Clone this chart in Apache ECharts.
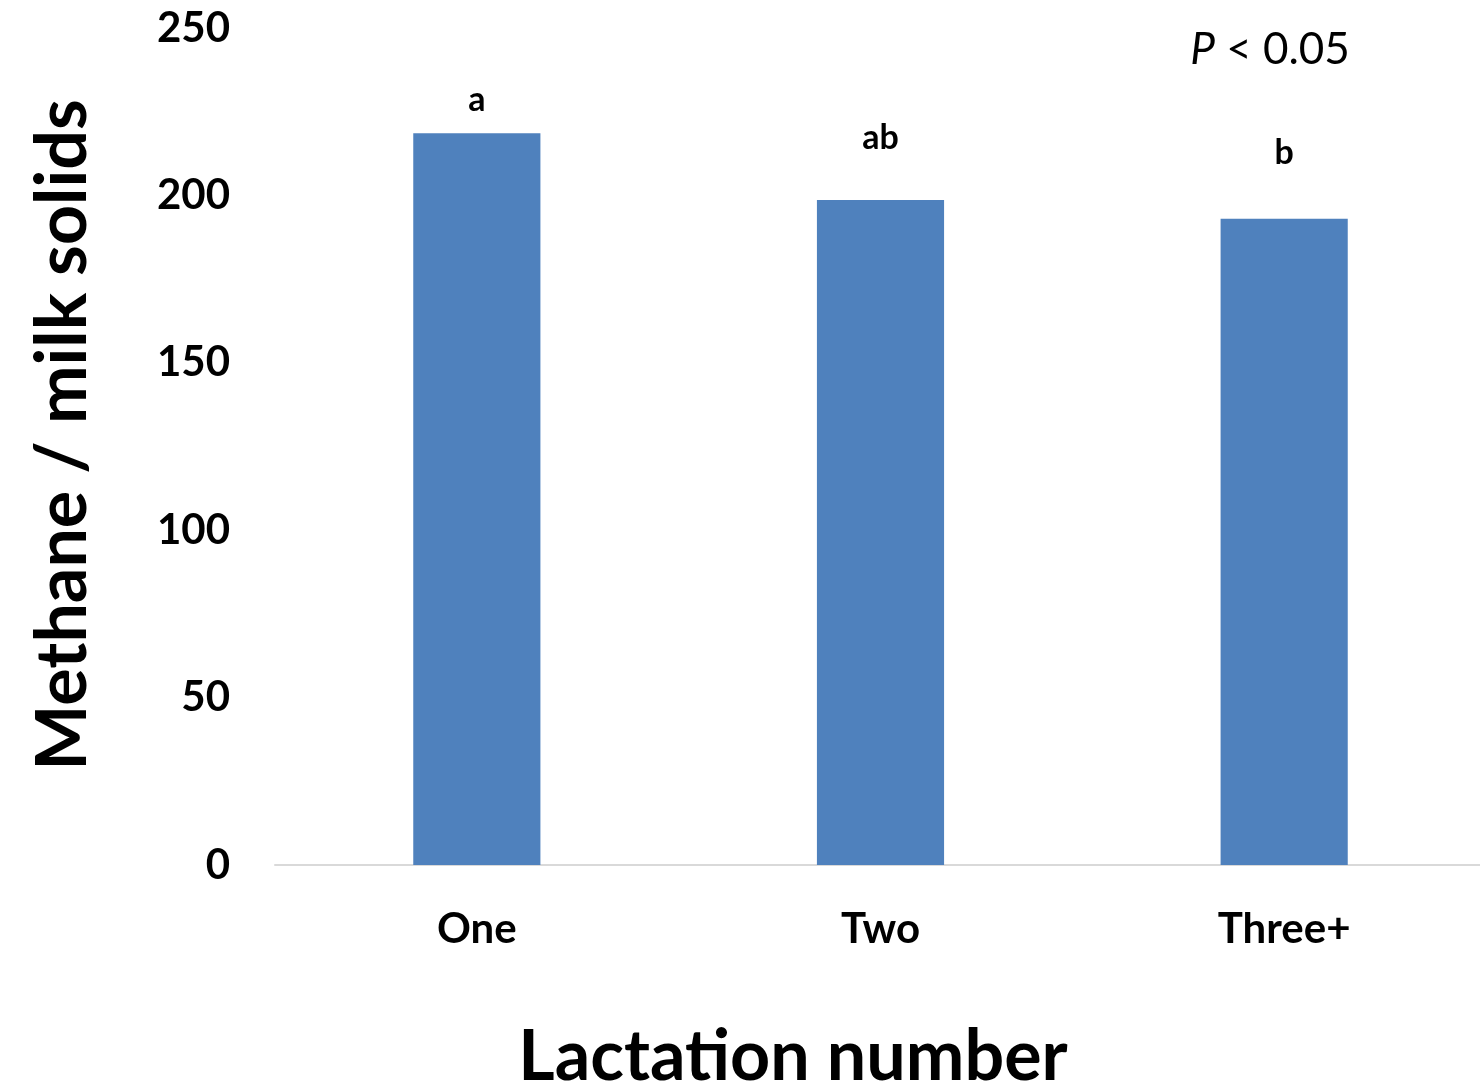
<!DOCTYPE html>
<html>
<head>
<meta charset="utf-8">
<script src="https://cdn.jsdelivr.net/npm/echarts@6/dist/echarts.min.js"></script>
<style>html,body{margin:0;padding:0;background:#fff;overflow:hidden;width:1480px;height:1090px}#c{width:1486px;height:1090px}</style>
</head>
<body>
<div id="c"></div>
<script>
const categories = ['One', 'Two', 'Three+'];
const methanePerMilkSolids = [218.6, 198.6, 193.0];
const letters = ['a', 'ab', 'b'];
const letterY = [228.5, 217.2, 212.7];
const yTicks = [0, 50, 100, 150, 200, 250];
const yTitle = 'Methane / milk solids';
const xTitle = 'Lactation number';

const FONT = 'Lato';
const chart = echarts.init(document.getElementById('c'), null, {renderer: 'canvas'});
chart.setOption({
  backgroundColor: '#ffffff',
  animation: false,
  grid: {left: 275, right: 0, top: 28, bottom: 225, containLabel: false},
  xAxis: {
    type: 'category',
    data: categories,
    axisLine: {show: true, lineStyle: {color: '#d9d9d9', width: 2}},
    axisTick: {show: false},
    axisLabel: {color: '#000', fontFamily: FONT, fontWeight: 'bold', fontSize: 42, margin: 43}
  },
  yAxis: {
    type: 'value',
    min: yTicks[0], max: yTicks[yTicks.length - 1], interval: yTicks[1] - yTicks[0],
    axisLine: {show: false},
    axisTick: {show: false},
    splitLine: {show: false},
    axisLabel: {color: '#000', fontFamily: FONT, fontWeight: 'bold', fontSize: 42, margin: 45}
  },
  graphic: [
    {type: 'text', x: 793, y: 1057, style: {text: xTitle, fill: '#000', font: 'bold 70px Lato', textAlign: 'center', textVerticalAlign: 'middle'}},
    {type: 'text', x: 63, y: 435, rotation: Math.PI / 2, style: {text: yTitle, fill: '#000', font: 'bold 70px Lato', textAlign: 'center', textVerticalAlign: 'middle'}},
    {type: 'text', x: 1270, y: 50, style: {
      text: '{i|P} < 0.05', textAlign: 'center', textVerticalAlign: 'middle',
      rich: {i: {fontStyle: 'italic', fontFamily: FONT, fontSize: 44, fill: '#000'}},
      font: '44px Lato', fill: '#000'}}
  ],
  series: [
    {
      type: 'bar',
      data: methanePerMilkSolids,
      barWidth: '31.5%',
      itemStyle: {color: '#4f81bd'}
    },
    {
      type: 'scatter',
      data: letterY.map((v, i) => ({value: v, label: {formatter: letters[i]}})),
      symbolSize: 0,
      silent: true,
      itemStyle: {opacity: 1},
      label: {show: true, position: 'inside', color: '#000', fontFamily: FONT, fontWeight: 'bold', fontSize: 34}
    }
  ]
});
</script>
</body>
</html>
